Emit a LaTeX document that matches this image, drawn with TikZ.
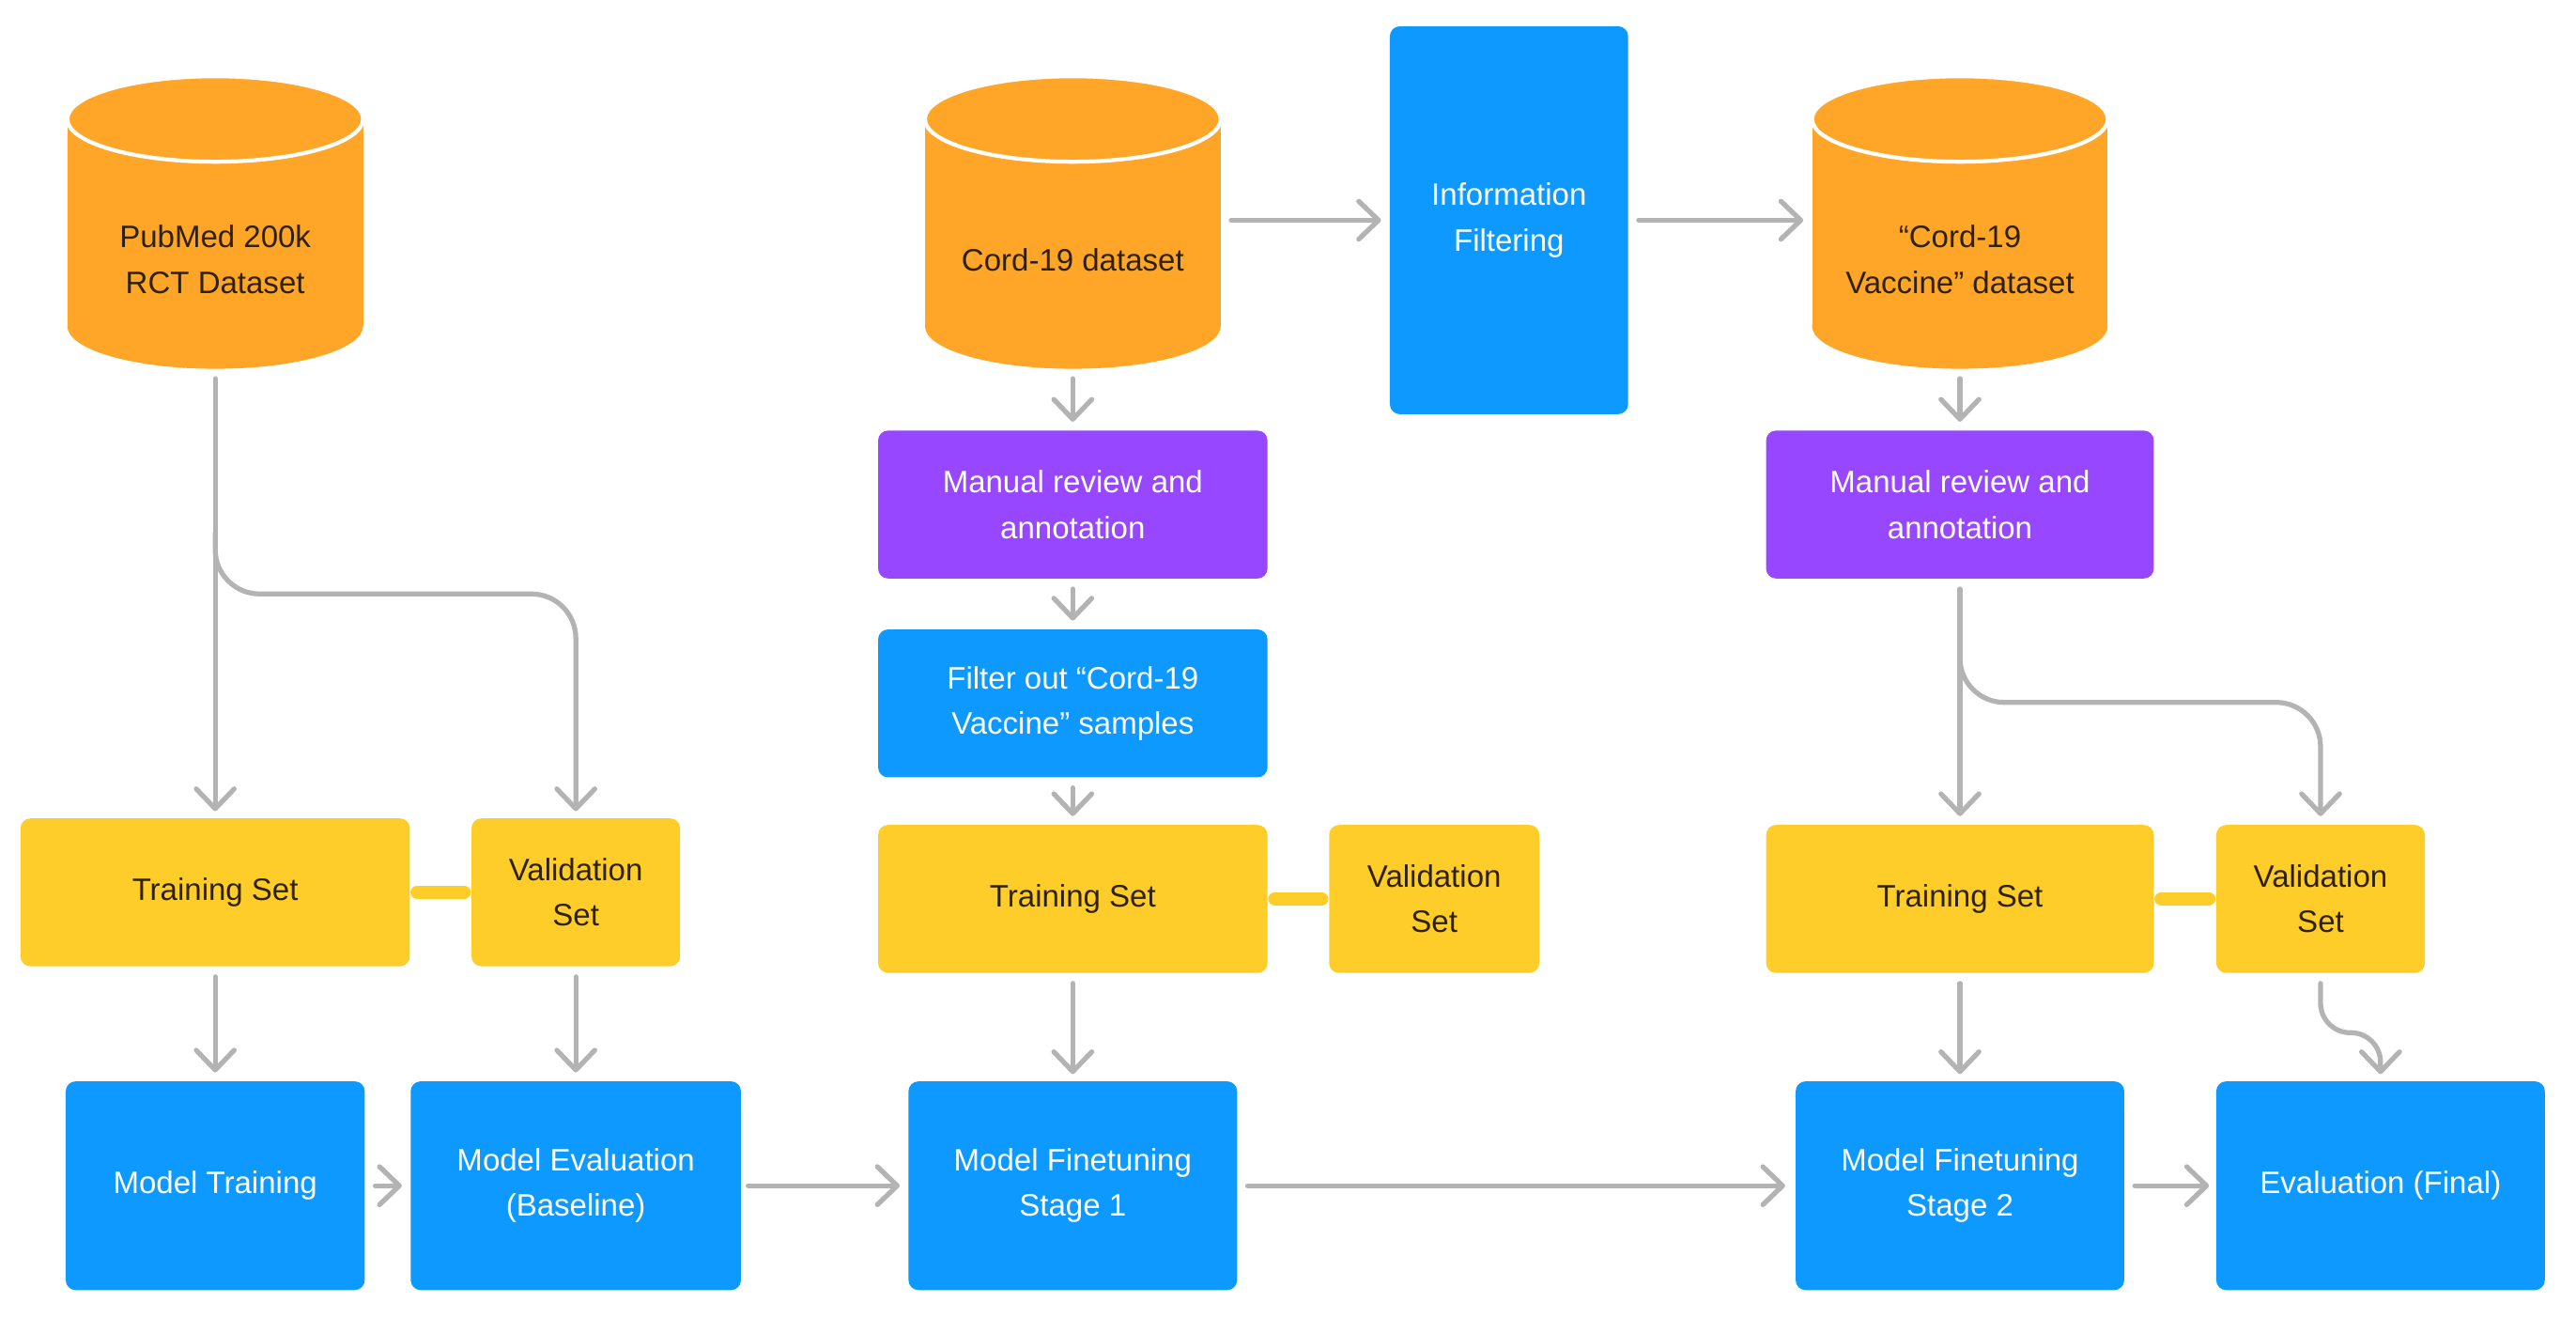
\documentclass[tikz,border=0pt]{standalone}
\usepackage{fontspec}
\setmainfont{Liberation Sans}
\usetikzlibrary{arrows.meta,calc,backgrounds}
\definecolor{orng}{HTML}{FFA629}
\definecolor{ylw}{HTML}{FFCD29}
\definecolor{blu}{HTML}{0D99FF}
\definecolor{prp}{HTML}{9747FF}
\definecolor{gry}{HTML}{B3B3B3}
\definecolor{dtxt}{HTML}{2E2206}
\newlength\uu
\setlength\uu{0.0175cm}
\newcommand\dbshape[1]{%
  \begin{scope}[on background layer]
    \fill[orng] ($(#1.south)+(-90,-26)$) rectangle ($(#1.south)+(90,-152)$);
    \fill[orng] ($(#1.south)+(0,-26)$) ellipse [x radius=90, y radius=26];
    \filldraw[fill=orng, draw=white, line width=1.2pt] ($(#1.south)+(0,-152)$) ellipse [x radius=90, y radius=26];
  \end{scope}}
\tikzset{
  every node/.style={font=\fontsize{9.4}{13.8}\selectfont, align=center, inner sep=0pt},
  box/.style={rectangle, rounded corners=3pt},
  db/.style={rectangle, minimum width=180\uu, minimum height=132\uu, text=dtxt},
  bluebox/.style={box, fill=blu, text=white},
  prpbox/.style={box, fill=prp, text=white},
  ylwbox/.style={box, fill=ylw, text=dtxt},
  arr/.style={draw=gry, line width=1.5pt, line cap=round, line join=round,
    -{Straight Barb[length=6pt, width=11.5pt, round]}, shorten <=6\uu, shorten >=5\uu},
  link/.style={draw=ylw, line width=4pt, line cap=round, shorten <=4\uu, shorten >=4\uu},
}
\begin{document}
\begin{tikzpicture}[x=0.0175cm, y=-0.0175cm]
\useasboundingbox (0,0) rectangle (1568,811);

% databases
\node[db] (c1) at (131,158) {PubMed 200k\\RCT Dataset};
\node[db] (c2) at (653,158) {Cord-19 dataset};
\node[db] (c3) at (1193,158) {“Cord-19\\Vaccine” dataset};
\dbshape{c1}\dbshape{c2}\dbshape{c3}

\node[bluebox, minimum width=145\uu, minimum height=236\uu] (info) at (918.5,134) {Information\\Filtering};

% middle column
\node[prpbox, minimum width=237\uu, minimum height=90\uu] (m1) at (653,307) {Manual review and\\annotation};
\node[bluebox, minimum width=237\uu, minimum height=90\uu] (f1) at (653,428) {Filter out “Cord-19\\Vaccine” samples};
\node[ylwbox, minimum width=237\uu, minimum height=90\uu] (t2) at (653,547) {Training Set};
\node[ylwbox, minimum width=128\uu, minimum height=90\uu] (v2) at (873,547) {Validation\\Set};

% left column
\node[ylwbox, minimum width=237\uu, minimum height=90\uu] (t1) at (131,543) {Training Set};
\node[ylwbox, minimum width=127\uu, minimum height=90\uu] (v1) at (350.5,543) {Validation\\Set};

% right column
\node[prpbox, minimum width=236\uu, minimum height=90\uu] (m2) at (1193,307) {Manual review and\\annotation};
\node[ylwbox, minimum width=236\uu, minimum height=90\uu] (t3) at (1193,547) {Training Set};
\node[ylwbox, minimum width=127\uu, minimum height=90\uu] (v3) at (1412.5,547) {Validation\\Set};

% bottom row
\node[bluebox, minimum width=182\uu, minimum height=127\uu] (mt) at (131,721.5) {Model Training};
\node[bluebox, minimum width=201\uu, minimum height=127\uu] (me) at (350.5,721.5) {Model Evaluation\\(Baseline)};
\node[bluebox, minimum width=200\uu, minimum height=127\uu] (fs1) at (653,721.5) {Model Finetuning\\Stage 1};
\node[bluebox, minimum width=200\uu, minimum height=127\uu] (fs2) at (1193,721.5) {Model Finetuning\\Stage 2};
\node[bluebox, minimum width=200\uu, minimum height=127\uu] (ef) at (1449,721.5) {Evaluation (Final)};

% yellow links
\draw[link] (t1.east) -- (v1.west);
\draw[link] (t2.east) -- (v2.west);
\draw[link] (t3.east) -- (v3.west);

% arrows
\draw[arr] (c2.east |- info.west) -- (info.west);
\draw[arr] (info.east) -- (c3.west |- info.east);

\draw[arr, shorten >=4\uu] (c1.south) -- (t1.north);
\draw[arr, shorten <=0pt, shorten >=4\uu, rounded corners=27\uu] ($(c1.south)+(0,100)$) -- ($(c1.south)+(0,137)$) -| (v1.north);
\draw[arr] (t1.south) -- (mt.north);
\draw[arr] (v1.south) -- (me.north);
\draw[arr] (mt.east) -- (me.west);
\draw[arr, shorten <=4\uu] (me.east) -- (fs1.west);

\draw[arr] (c2.south) -- (m1.north);
\draw[arr] (m1.south) -- (f1.north);
\draw[arr] (f1.south) -- (t2.north);
\draw[arr, shorten >=4\uu] (t2.south) -- (fs1.north);
\draw[arr, shorten >=6\uu] (fs1.east) -- (fs2.west);

\draw[arr] (c3.south) -- (m2.north);
\draw[arr] (m2.south) -- (t3.north);
\draw[arr, shorten <=0pt, rounded corners=27\uu] ($(m2.south)+(0,40)$) -- ($(m2.south)+(0,75)$) -| (v3.north);
\draw[arr, shorten >=4\uu] (t3.south) -- (fs2.north);
\draw[arr, shorten >=4\uu] (fs2.east) -- (ef.west);
\draw[arr, shorten >=4\uu, rounded corners=18\uu] (v3.south) -- ($(v3.south)+(0,36)$) -| (ef.north);
\end{tikzpicture}
\end{document}
